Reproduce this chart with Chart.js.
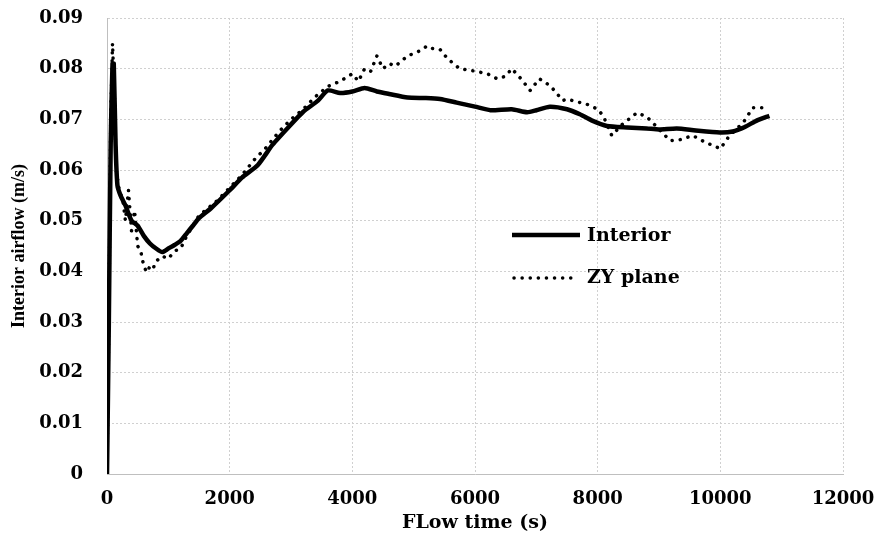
<!DOCTYPE html>
<html>
<head>
<meta charset="utf-8">
<style>
  html, body { margin: 0; padding: 0; background: #ffffff; }
  #wrap { width: 882px; height: 534px; position: relative; }
</style>
</head>
<body>
<div id="wrap"><canvas id="airflow-canvas" width="882" height="534"></canvas></div>

<script src="https://cdn.jsdelivr.net/npm/chart.js@4.4.1/dist/chart.umd.min.js"></script>
<script>
  // Interior (solid) - flow time (s) and airflow (m/s)
  let interior_t = [0, 30, 60, 90, 110, 140, 170, 220, 300, 400, 500, 600, 700, 800, 900,
    1000, 1100, 1200, 1300, 1400, 1500, 1700, 2000, 2200, 2460, 2700, 3000, 3200, 3440,
    3600, 3800, 4000, 4200, 4400, 4600, 4900, 5200, 5430, 5700, 6000, 6250, 6600, 6850,
    7000, 7220, 7500, 7710, 7900, 8150, 8480, 8800, 9000, 9290, 9600, 9990, 10200, 10400,
    10600, 10800];
  let interior_v = [0, 0.03, 0.065, 0.081, 0.081, 0.065, 0.057, 0.055, 0.053, 0.050, 0.049,
    0.047, 0.0455, 0.0445, 0.0438, 0.0445, 0.0452, 0.046, 0.0475, 0.049, 0.0505, 0.0525,
    0.056, 0.0585, 0.061, 0.065, 0.069, 0.0715, 0.0737, 0.0757, 0.0752, 0.0755, 0.0762,
    0.0755, 0.075, 0.0743, 0.0742, 0.074, 0.0733, 0.0725, 0.0718, 0.072, 0.0714, 0.0718,
    0.0725, 0.072, 0.071, 0.0698, 0.0687, 0.0684, 0.0682, 0.068, 0.0682, 0.0678, 0.0674,
    0.0676, 0.0685, 0.0698, 0.0707];

  // ZY plane (dotted)
  let zy_t = [0, 30, 60, 90, 120, 150, 200, 260, 300, 350, 400, 450, 500, 550, 600, 650,
    700, 750, 800, 900, 1000, 1100, 1200, 1300, 1400, 1500, 1800, 2000, 2200, 2400, 2600,
    2800, 3000, 3200, 3400, 3600, 3800, 4000, 4100, 4200, 4300, 4400, 4500, 4600, 4700,
    4800, 4900, 5000, 5100, 5220, 5300, 5430, 5550, 5750, 6000, 6200, 6360, 6500, 6600,
    6750, 6900, 7050, 7230, 7430, 7500, 7650, 7820, 8000, 8090, 8230, 8400, 8640, 8800,
    8900, 9180, 9350, 9550, 9750, 10000, 10150, 10370, 10530, 10760, 10800];
  let zy_v = [0, 0.03, 0.07, 0.085, 0.075, 0.06, 0.056, 0.054, 0.05, 0.056, 0.048, 0.052,
    0.045, 0.044, 0.041, 0.0398, 0.041, 0.0405, 0.042, 0.043, 0.0425, 0.044, 0.0445, 0.047,
    0.049, 0.051, 0.054, 0.0565, 0.059, 0.062, 0.0645, 0.0675, 0.07, 0.072, 0.0745, 0.0765,
    0.0775, 0.079, 0.0775, 0.080, 0.0795, 0.0825, 0.080, 0.081, 0.0805, 0.0815, 0.0825,
    0.083, 0.0835, 0.0845, 0.084, 0.0838, 0.082, 0.080, 0.0795, 0.079, 0.078, 0.0785, 0.080,
    0.078, 0.0757, 0.078, 0.0766, 0.0737, 0.074, 0.0735, 0.073, 0.072, 0.0707, 0.0668,
    0.069, 0.0713, 0.0705, 0.0693, 0.0658, 0.066, 0.0668, 0.0655, 0.0642, 0.0668, 0.0693,
    0.0723, 0.0723, 0.0725];

  let series_names = ['Interior', 'ZY plane'];
  let x_title = 'FLow time (s)';
  let y_title = 'Interior airflow (m/s)';

  let to_points = function(ts, vs) {
    let pts = [];
    for (let i = 0; i < ts.length; i++) {
      pts.push({x: ts[i], y: vs[i]});
    }
    return pts;
  };

  let tick_font = {family: 'DejaVu Serif', size: 18, weight: 'bold'};
  let dot_dash = [0.1, 8];

  // Legend drawn inside the plot, like the original
  let inner_legend = {
    id: 'innerLegend',
    afterDraw: function(chart) {
      let ctx = chart.ctx;
      ctx.save();
      ctx.strokeStyle = '#000';
      ctx.fillStyle = '#000';
      ctx.font = 'bold 19px "DejaVu Serif"';
      ctx.textBaseline = 'middle';

      ctx.lineWidth = 4.5;
      ctx.beginPath();
      ctx.moveTo(512, 235);
      ctx.lineTo(580, 235);
      ctx.stroke();
      ctx.fillText(series_names[0], 587, 236);

      ctx.lineWidth = 3.5;
      ctx.lineCap = 'round';
      ctx.setLineDash(dot_dash);
      ctx.beginPath();
      ctx.moveTo(514, 278);
      ctx.lineTo(578, 278);
      ctx.stroke();
      ctx.setLineDash([]);
      ctx.fillText(series_names[1], 587, 278);
      ctx.restore();
    }
  };

  let airflow_ctx = document.getElementById('airflow-canvas').getContext('2d');
  let airflow_chart = new Chart(airflow_ctx, {
    type: 'line',
    data: {
      datasets: [
        {
          label: series_names[0],
          data: to_points(interior_t, interior_v),
          borderColor: '#000',
          borderWidth: 4.5,
          pointRadius: 0,
          tension: 0.2,
          fill: false
        },
        {
          label: series_names[1],
          data: to_points(zy_t, zy_v),
          borderColor: '#000',
          borderWidth: 3.5,
          borderDash: dot_dash,
          borderCapStyle: 'round',
          pointRadius: 0,
          tension: 0,
          fill: false
        }
      ]
    },
    options: {
      responsive: false,
      animation: false,
      layout: {padding: {top: 18, right: 39, bottom: 0, left: 0}},
      plugins: {
        legend: {display: false},
        tooltip: {enabled: false}
      },
      scales: {
        x: {
          type: 'linear',
          min: 0,
          max: 12000,
          ticks: {stepSize: 2000, color: '#000', font: tick_font, padding: 15, maxRotation: 0,
                  callback: function(v) { return String(v); }},
          grid: {color: '#d0d0d0', drawTicks: false},
          border: {color: '#bfbfbf', dash: [2, 2]},
          title: {display: true, text: x_title, color: '#000',
                  font: {family: 'DejaVu Serif', size: 19, weight: 'bold'}, padding: {top: 0, bottom: 0}},
          afterFit: function(scale) {
            scale.height = 60;
            scale.paddingLeft = 0;
            scale.paddingRight = 0;
          }
        },
        y: {
          min: 0,
          max: 0.09,
          ticks: {stepSize: 0.01, color: '#000', font: tick_font, padding: 24,
                  callback: function(v) { return String(Math.round(v * 100) / 100); }},
          grid: {color: '#d0d0d0', drawTicks: false},
          border: {color: '#bfbfbf', dash: [2, 2]},
          title: {display: true, text: y_title, color: '#000',
                  font: {family: 'Liberation Serif', size: 18, weight: 'bold'}, padding: {top: 9, bottom: 0}},
          afterFit: function(scale) {
            scale.width = 107;
            scale.paddingTop = 0;
            scale.paddingBottom = 0;
          }
        }
      }
    },
    plugins: [inner_legend]
  });
</script>
</body>
</html>
